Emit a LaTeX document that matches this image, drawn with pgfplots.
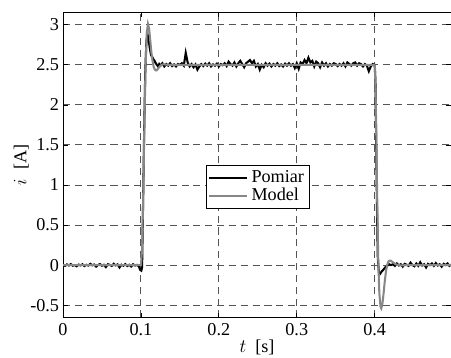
\documentclass[border=0pt]{standalone}
\usepackage{fontspec}
\setmainfont{Liberation Serif}
\usepackage{pgfplots}
\pgfplotsset{compat=1.18}
\definecolor{modelgray}{RGB}{135,135,135}
\definecolor{gridgray}{RGB}{85,85,85}
\begin{document}
\begin{tikzpicture}
\useasboundingbox (-39.9pt,-25.6pt) rectangle (245.6pt,201pt);
\begin{axis}[
  scale only axis,
  width=245.6pt, height=193.4pt,
  font=\fontsize{11.5}{13.5}\selectfont,
  xmin=0, xmax=0.498, ymin=-0.655, ymax=3.16,
  xtick={0,0.1,0.2,0.3,0.4},
  xticklabels={0,0.1,0.2,0.3,0.4},
  ytick={-0.5,0,0.5,1,1.5,2,2.5,3},
  yticklabels={-0.5,0,0.5,1,1.5,2,2.5,3},
  tick align=inside,
  major tick length=3pt,
  tick style={black, line width=0.5pt},
  axis line style={black, line width=0.6pt},
  grid=major,
  major grid style={gridgray, line width=0.6pt, dash pattern=on 4.5pt off 3pt},
  xlabel={$t$\ \ [s]},
  ylabel={$i$\ \ [A]},
  xlabel style={yshift=4pt},
  ylabel style={yshift=-6pt},
  yticklabel style={xshift=1pt},
  legend style={at={(rel axis cs:0.502,0.428)}, anchor=center, draw=black, line width=0.5pt, inner sep=1.5pt, row sep=-2pt, font=\fontsize{11.5}{13.5}\selectfont},
  legend cell align=left,
  legend image code/.code={\draw[#1] (0pt,0pt) -- (24pt,0pt);},
]
\addplot[black, line width=1.3pt] coordinates {
(0.000,0.005) (0.0025,-0.010) (0.005,0.008) (0.0075,-0.005) (0.010,0.012) (0.0125,-0.008)
(0.015,0.000) (0.0175,-0.015) (0.020,0.006) (0.0225,-0.004) (0.025,0.010) (0.0275,-0.012)
(0.030,0.004) (0.0325,-0.006) (0.035,0.015) (0.0375,-0.003) (0.040,0.007) (0.0425,-0.020)
(0.045,0.002) (0.0475,0.012) (0.050,-0.008) (0.0525,0.004) (0.055,-0.025) (0.0575,0.010)
(0.060,0.003) (0.0625,-0.010) (0.065,0.016) (0.0675,-0.004) (0.070,0.008) (0.0725,-0.030)
(0.075,0.005) (0.0775,-0.008) (0.080,0.012) (0.0825,-0.012) (0.085,0.004) (0.0875,-0.018)
(0.090,0.010) (0.0925,-0.006) (0.095,0.002) (0.0975,-0.020) (0.099,-0.060) (0.1005,-0.070)
(0.1015,-0.03) (0.1025,0.6) (0.104,1.6) (0.1055,2.4) (0.107,2.80) (0.1085,2.88)
(0.110,2.80) (0.1115,2.70) (0.113,2.62) (0.1145,2.60) (0.116,2.57) (0.1175,2.55)
(0.119,2.52) (0.1205,2.50) (0.122,2.48) (0.1235,2.51) (0.125,2.49) (0.1275,2.52)
(0.1300,2.48) (0.1325,2.51) (0.1350,2.49) (0.1375,2.52) (0.1400,2.485) (0.1425,2.505)
(0.1450,2.48) (0.1475,2.51) (0.1500,2.50) (0.1525,2.52) (0.1550,2.49) (0.1575,2.65)
(0.1600,2.53) (0.1625,2.48) (0.1650,2.51) (0.1675,2.47) (0.1700,2.505) (0.1725,2.44)
(0.1750,2.48) (0.1775,2.51) (0.1800,2.485) (0.1825,2.515) (0.1850,2.49) (0.1875,2.52)
(0.1900,2.48) (0.1925,2.505) (0.1950,2.49) (0.1975,2.515) (0.2000,2.48) (0.2025,2.51)
(0.2050,2.495) (0.2075,2.52) (0.2100,2.485) (0.2125,2.54) (0.2150,2.51) (0.2175,2.49)
(0.2200,2.53) (0.2225,2.48) (0.2250,2.52) (0.2275,2.55) (0.2300,2.51) (0.2325,2.47)
(0.2350,2.52) (0.2375,2.54) (0.2400,2.56) (0.2425,2.52) (0.2450,2.55) (0.2475,2.48)
(0.2500,2.51) (0.2525,2.44) (0.2550,2.50) (0.2575,2.47) (0.2600,2.52) (0.2625,2.49)
(0.2650,2.515) (0.2675,2.48) (0.2700,2.51) (0.2725,2.49) (0.2750,2.52) (0.2775,2.485)
(0.2800,2.505) (0.2825,2.48) (0.2850,2.515) (0.2875,2.49) (0.2900,2.52) (0.2925,2.49)
(0.2950,2.51) (0.2975,2.46) (0.3000,2.52) (0.3025,2.45) (0.3050,2.53) (0.3075,2.51)
(0.3100,2.56) (0.3125,2.52) (0.3150,2.59) (0.3175,2.53) (0.3200,2.55) (0.3225,2.48)
(0.3250,2.54) (0.3275,2.52) (0.3300,2.47) (0.3325,2.53) (0.3350,2.49) (0.3375,2.52)
(0.3400,2.48) (0.3425,2.51) (0.3450,2.49) (0.3475,2.52) (0.3500,2.51) (0.3525,2.485)
(0.3550,2.51) (0.3575,2.49) (0.3600,2.52) (0.3625,2.48) (0.3650,2.53) (0.3675,2.51)
(0.3700,2.49) (0.3725,2.52) (0.3750,2.53) (0.3775,2.49) (0.3800,2.52) (0.3825,2.51)
(0.3850,2.48) (0.3875,2.51) (0.3900,2.49) (0.3925,2.42) (0.3950,2.48) (0.3975,2.51)
(0.4000,2.50) (0.4010,2.3) (0.4020,1.5) (0.4030,0.7) (0.4040,0.1) (0.4055,-0.10)
(0.4070,-0.11) (0.4090,-0.08) (0.411,-0.06) (0.4135,-0.03) (0.416,-0.01) (0.4185,0.01)
(0.421,0.0) (0.4235,0.01) (0.426,-0.01) (0.4285,0.02) (0.431,-0.005) (0.4335,0.01)
(0.436,-0.02) (0.4385,0.015) (0.441,0.005) (0.4435,-0.01) (0.446,0.03) (0.4485,0.0)
(0.451,-0.015) (0.4535,0.02) (0.456,-0.01) (0.4585,0.035) (0.461,-0.005) (0.4635,0.01)
(0.466,-0.03) (0.4685,0.015) (0.471,0.0) (0.4735,0.02) (0.476,-0.01) (0.4785,0.025)
(0.481,-0.005) (0.4835,0.01) (0.486,-0.02) (0.4885,0.015) (0.491,0.0) (0.4935,0.02)
(0.496,-0.01) (0.498,0.005)
};
\addlegendentry{Pomiar}
\addplot[modelgray, line width=1.3pt] coordinates {
(0,0) (0.1,0) (0.1015,0.2) (0.103,0.9) (0.1045,1.8) (0.106,2.5) (0.1075,2.9)
(0.109,3.01) (0.1105,2.95) (0.112,2.80) (0.1135,2.65) (0.115,2.54) (0.1165,2.47)
(0.118,2.44) (0.1195,2.43) (0.121,2.44) (0.1225,2.46) (0.124,2.48) (0.126,2.495)
(0.128,2.505) (0.131,2.505) (0.135,2.50) (0.40,2.50) (0.4005,2.45) (0.4015,2.0)
(0.403,1.0) (0.4045,0.1) (0.406,-0.35) (0.4075,-0.52) (0.4085,-0.54) (0.410,-0.48)
(0.4115,-0.35) (0.413,-0.2) (0.4145,-0.08) (0.416,0.0) (0.4175,0.04) (0.419,0.055)
(0.4205,0.055) (0.422,0.045) (0.424,0.03) (0.427,0.01) (0.430,0.0) (0.435,-0.005)
(0.44,0) (0.498,0)
};
\addlegendentry{Model}
\end{axis}
\end{tikzpicture}
\end{document}
